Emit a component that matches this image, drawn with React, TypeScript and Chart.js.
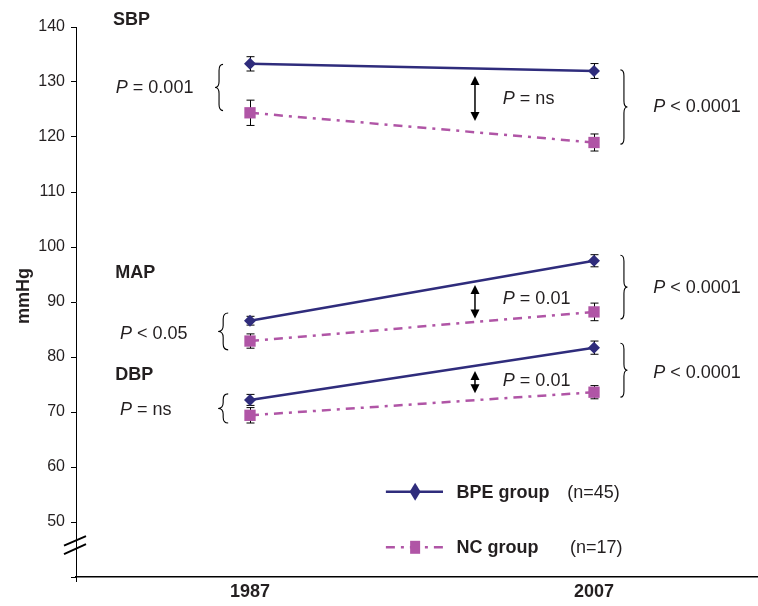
import React, { useEffect, useRef } from 'react';
import { Chart, registerables } from 'chart.js';
Chart.register(...registerables);

// ---- data ----
const years = ['1987', '2007'];
const bpeSBP = [133.3, 132.0];
const bpeMAP = [86.6, 97.5];
const bpeDBP = [72.2, 81.7];
const ncSBP = [124.4, 119.0];
const ncMAP = [82.9, 88.2];
const ncDBP = [69.4, 73.6];
const bpeSBPErr = [1.3, 1.35];
const bpeMAPErr = [0.8, 1.1];
const bpeDBPErr = [1.0, 1.2];
const ncSBPErr = [2.3, 1.55];
const ncMAPErr = [1.3, 1.6];
const ncDBPErr = [1.4, 1.2];
const yMin = 40;
const yMax = 140;
const yStep = 10;

const BPE_COLOR = '#2F2C7C';
const NC_COLOR = '#B055A6';
const TEXT = '#231F20';
const FONT = '"Liberation Sans", Arial, sans-serif';
const NC_DASH = [9, 6, 3, 6];

// annotations in data units (x: category index, y: mmHg)
const groupLabels = [
  { text: 'SBP', x: -0.398, y: 140.4 },
  { text: 'MAP', x: -0.392, y: 94.4 },
  { text: 'DBP', x: -0.392, y: 75.8 },
];
const pLabels = [
  { text: ' = 0.001', x: -0.39, y: 128.0 },
  { text: ' < 0.05', x: -0.378, y: 83.3 },
  { text: ' = ns', x: -0.378, y: 69.5 },
  { text: ' = ns', x: 0.735, y: 126.0 },
  { text: ' = 0.01', x: 0.735, y: 89.6 },
  { text: ' = 0.01', x: 0.735, y: 74.7 },
  { text: ' < 0.0001', x: 1.172, y: 124.5 },
  { text: ' < 0.0001', x: 1.172, y: 91.6 },
  { text: ' < 0.0001', x: 1.172, y: 76.2 },
];
const braces = [
  { x: -0.09, y1: 133.2, y2: 124.8, dir: -1, w: 4 },
  { x: -0.078, y1: 88.0, y2: 81.3, dir: -1, w: 5 },
  { x: -0.078, y1: 73.3, y2: 68.0, dir: -1, w: 5 },
  { x: 1.087, y1: 132.2, y2: 118.7, dir: 1, w: 3.5 },
  { x: 1.087, y1: 98.5, y2: 86.9, dir: 1, w: 3.5 },
  { x: 1.087, y1: 82.5, y2: 72.7, dir: 1, w: 3.5 },
];
const arrows = [
  { x: 0.654, y1: 131.1, y2: 122.9 },
  { x: 0.654, y1: 93.1, y2: 87.0 },
  { x: 0.654, y1: 77.45, y2: 73.4 },
];
const legendItems = [
  { name: 'BPE group', n: '(n=45)', color: BPE_COLOR, dash: [] as number[], style: 'diamond', y: 55.5, nx: 0.922 },
  { name: 'NC group', n: '(n=17)', color: NC_COLOR, dash: NC_DASH, style: 'square', y: 45.4, nx: 0.930 },
];
const legendLine = { x1: 0.395, x2: 0.561, xm: 0.48, tx: 0.6 };
const axisBreakY = 45.6;
const yTitleAt = 91.1;

const errSets = [
  { vals: bpeSBP, err: bpeSBPErr }, { vals: bpeMAP, err: bpeMAPErr }, { vals: bpeDBP, err: bpeDBPErr },
  { vals: ncSBP, err: ncSBPErr }, { vals: ncMAP, err: ncMAPErr }, { vals: ncDBP, err: ncDBPErr },
];

const pts = (arr: number[]) => arr.map((v, i) => ({ x: i, y: v }));

function mkSet(data: number[], color: string, dash: number[], style: string, r: number) {
  return {
    data: pts(data),
    borderColor: color,
    backgroundColor: color,
    borderWidth: 2.5,
    borderDash: dash,
    pointStyle: style,
    pointRadius: r,
    pointBorderWidth: 0,
    pointBackgroundColor: color,
    tension: 0,
  };
}

const annotPlugin = {
  id: 'annot',
  beforeDatasetsDraw(chart: any) {
    const { ctx, scales } = chart;
    const xs = scales.x, ys = scales.y;
    ctx.save();
    ctx.strokeStyle = '#000';
    ctx.lineWidth = 1;
    errSets.forEach((s) => {
      s.vals.forEach((v, i) => {
        const px = Math.round(xs.getPixelForValue(i)) + 0.5;
        const top = ys.getPixelForValue(v + s.err[i]);
        const bot = ys.getPixelForValue(v - s.err[i]);
        ctx.beginPath();
        ctx.moveTo(px, top); ctx.lineTo(px, bot);
        ctx.moveTo(px - 4, top); ctx.lineTo(px + 4, top);
        ctx.moveTo(px - 4, bot); ctx.lineTo(px + 4, bot);
        ctx.stroke();
      });
    });
    ctx.restore();
  },
  afterDraw(chart: any) {
    const { ctx, scales, chartArea } = chart;
    const xs = scales.x, ys = scales.y;
    const X = (v: number) => xs.getPixelForValue(v);
    const Y = (v: number) => ys.getPixelForValue(v);
    ctx.save();
    ctx.fillStyle = TEXT;
    ctx.textBaseline = 'alphabetic';
    ctx.textAlign = 'left';
    // group labels
    ctx.font = `bold 18px ${FONT}`;
    groupLabels.forEach((g) => ctx.fillText(g.text, X(g.x), Y(g.y)));
    // P labels
    pLabels.forEach((p) => {
      const x = X(p.x), y = Y(p.y);
      ctx.font = `italic 18px ${FONT}`;
      ctx.fillText('P', x, y);
      const w = ctx.measureText('P').width;
      ctx.font = `18px ${FONT}`;
      ctx.fillText(p.text, x + w, y);
    });
    // braces
    ctx.strokeStyle = '#000';
    ctx.lineWidth = 1.1;
    braces.forEach((b) => {
      const x = X(b.x), y1 = Y(b.y1), y2 = Y(b.y2);
      const ym = (y1 + y2) / 2;
      const r = Math.min(6, (y2 - y1) / 5);
      const d = b.dir, w = b.w;
      ctx.beginPath();
      ctx.moveTo(x - d * w, y1);
      ctx.quadraticCurveTo(x, y1, x, y1 + r);
      ctx.lineTo(x, ym - r);
      ctx.quadraticCurveTo(x, ym, x + d * w, ym);
      ctx.quadraticCurveTo(x, ym, x, ym + r);
      ctx.lineTo(x, y2 - r);
      ctx.quadraticCurveTo(x, y2, x - d * w, y2);
      ctx.stroke();
    });
    // arrows
    ctx.fillStyle = '#000';
    arrows.forEach((a) => {
      const x = X(a.x), y1 = Y(a.y1), y2 = Y(a.y2);
      const hl = 9, hw = 4.5;
      ctx.lineWidth = 1.5;
      ctx.beginPath();
      ctx.moveTo(x, y1 + hl - 1); ctx.lineTo(x, y2 - hl + 1);
      ctx.stroke();
      ctx.beginPath();
      ctx.moveTo(x, y1); ctx.lineTo(x - hw, y1 + hl); ctx.lineTo(x + hw, y1 + hl); ctx.closePath();
      ctx.fill();
      ctx.beginPath();
      ctx.moveTo(x, y2); ctx.lineTo(x - hw, y2 - hl); ctx.lineTo(x + hw, y2 - hl); ctx.closePath();
      ctx.fill();
    });
    // legend
    legendItems.forEach((it) => {
      const y = Y(it.y);
      ctx.save();
      ctx.strokeStyle = it.color;
      ctx.lineWidth = 2.5;
      ctx.setLineDash(it.dash);
      ctx.beginPath();
      ctx.moveTo(X(legendLine.x1), y); ctx.lineTo(X(legendLine.x2), y);
      ctx.stroke();
      ctx.restore();
      const mx = X(legendLine.xm);
      ctx.fillStyle = it.color;
      ctx.beginPath();
      if (it.style === 'diamond') {
        ctx.moveTo(mx, y - 9); ctx.lineTo(mx + 5.5, y); ctx.lineTo(mx, y + 9); ctx.lineTo(mx - 5.5, y); ctx.closePath();
      } else {
        ctx.rect(mx - 5, y - 6.5, 10, 13);
      }
      ctx.fill();
      ctx.fillStyle = TEXT;
      ctx.textBaseline = 'middle';
      ctx.font = `bold 18px ${FONT}`;
      ctx.fillText(it.name, X(legendLine.tx), y + 1);
      ctx.font = `18px ${FONT}`;
      ctx.fillText(it.n, X(it.nx), y + 1);
    });
    // y-axis title
    ctx.save();
    ctx.translate(24, Y(yTitleAt));
    ctx.rotate(-Math.PI / 2);
    ctx.textAlign = 'center';
    ctx.textBaseline = 'middle';
    ctx.fillStyle = TEXT;
    ctx.font = `bold 18px ${FONT}`;
    ctx.fillText('mmHg', 0, 0);
    ctx.restore();
    // axis break
    const ax = chartArea.left;
    const by = Y(axisBreakY);
    ctx.strokeStyle = '#000';
    ctx.lineWidth = 2;
    ctx.beginPath();
    ctx.moveTo(ax - 12, by - 0.5); ctx.lineTo(ax + 10, by - 10);
    ctx.moveTo(ax - 12, by + 8); ctx.lineTo(ax + 10, by - 2);
    ctx.stroke();
    // small tick at origin
    ctx.lineWidth = 1;
    ctx.beginPath();
    ctx.moveTo(ax + 0.5, chartArea.bottom); ctx.lineTo(ax + 0.5, chartArea.bottom + 5);
    ctx.stroke();
    ctx.restore();
  },
};

export default function App() {
  const ref = useRef<HTMLCanvasElement>(null);
  useEffect(() => {
    const canvas = ref.current!;
    const chart = new Chart(canvas, {
      type: 'line',
      data: {
        datasets: [
          mkSet(bpeSBP, BPE_COLOR, [], 'rectRot', 6),
          mkSet(bpeMAP, BPE_COLOR, [], 'rectRot', 6),
          mkSet(bpeDBP, BPE_COLOR, [], 'rectRot', 6),
          mkSet(ncSBP, NC_COLOR, NC_DASH, 'rect', 8),
          mkSet(ncMAP, NC_COLOR, NC_DASH, 'rect', 8),
          mkSet(ncDBP, NC_COLOR, NC_DASH, 'rect', 8),
        ] as any,
      },
      options: {
        animation: false,
        responsive: false,
        devicePixelRatio: 1,
        layout: { autoPadding: false, padding: { top: 27, right: 0, left: 0, bottom: 0 } },
        plugins: { legend: { display: false }, tooltip: { enabled: false } },
        scales: {
          x: {
            type: 'linear',
            min: -0.5058,
            max: 1.4767,
            afterBuildTicks: (s: any) => { s.ticks = years.map((_, i) => ({ value: i })); },
            afterFit: (s: any) => { s.height = 29; },
            ticks: {
              callback: (v: any) => years[v] ?? '',
              font: { family: FONT, size: 18, weight: 'bold' },
              color: TEXT,
              padding: 4,
              maxRotation: 0,
            },
            grid: { display: true, drawOnChartArea: false, drawTicks: false, color: '#000' },
            border: { display: true, color: '#000', width: 1.5 },
          },
          y: {
            type: 'linear',
            min: yMin,
            max: yMax,
            afterFit: (s: any) => { s.width = 76; },
            ticks: {
              stepSize: yStep,
              callback: (v: any) => (v === yMin ? '' : String(v)),
              font: { family: FONT, size: 16 },
              color: TEXT,
              padding: 6,
            },
            grid: { display: true, drawOnChartArea: false, drawTicks: true, tickLength: 5, color: '#000' },
            border: { display: true, color: '#000', width: 1 },
          },
        },
      } as any,
      plugins: [annotPlugin],
    });
    return () => chart.destroy();
  }, []);
  return (
    <div style={{ position: 'absolute', left: 0, top: 0, width: 758, height: 606, background: '#fff' }}>
      <canvas ref={ref} width={758} height={606} />
    </div>
  );
}
